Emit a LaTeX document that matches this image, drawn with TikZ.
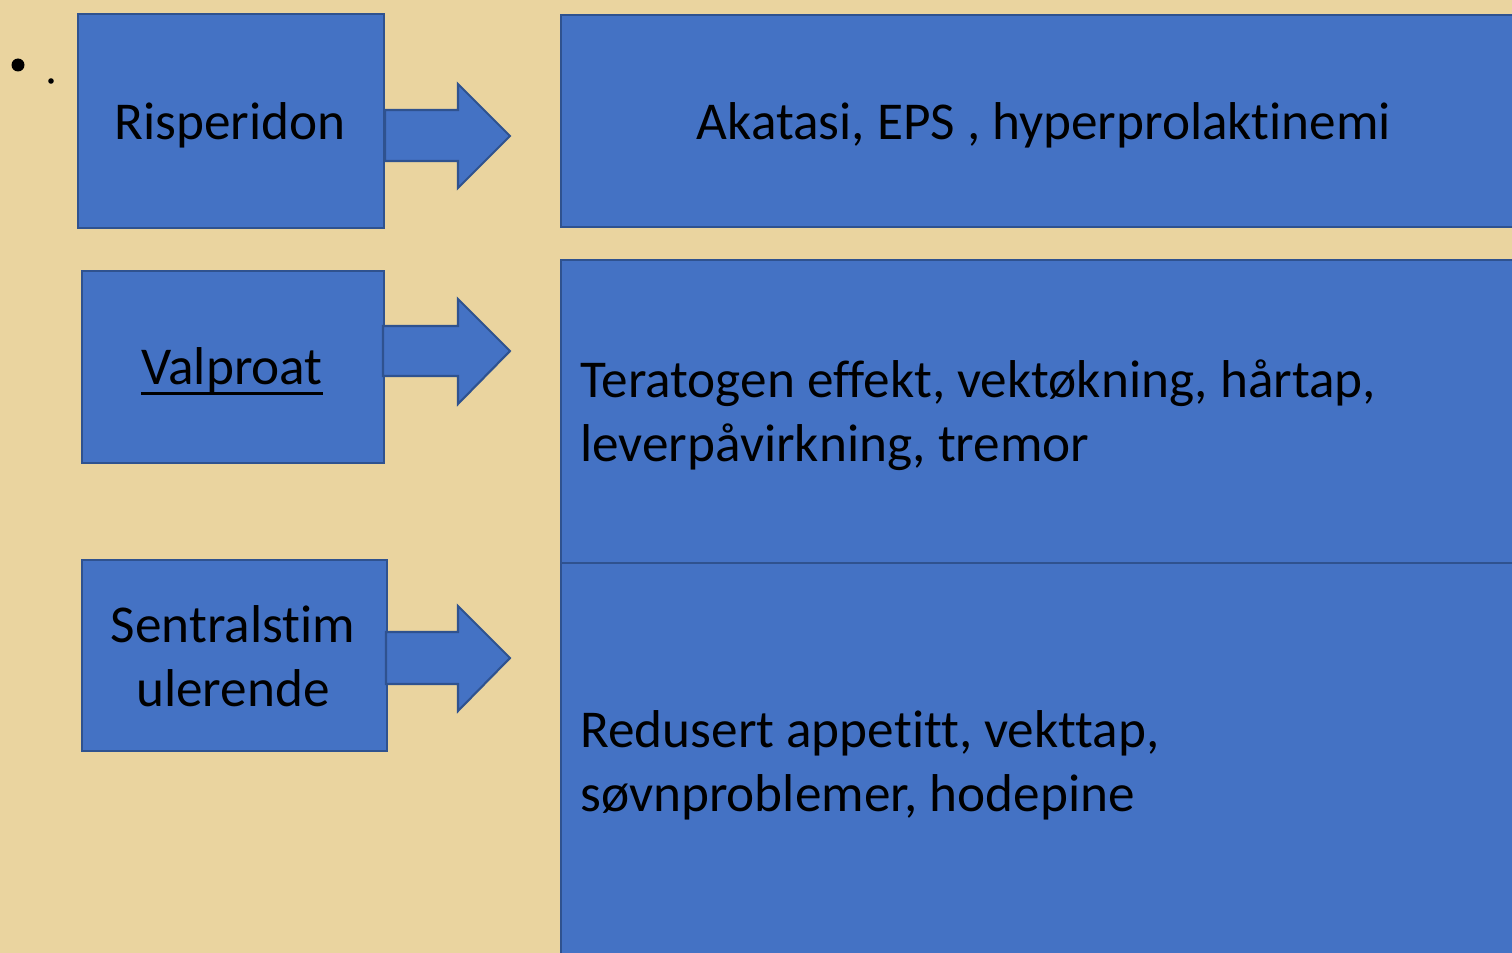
\documentclass[tikz,border=0pt]{standalone}
\usepackage{fontspec}
\setmainfont{Carlito}[Ligatures=NoCommon]
\definecolor{parch}{HTML}{EAD49F}
\definecolor{boxblue}{HTML}{4472C4}
\definecolor{boxline}{HTML}{2F528F}
\begin{document}
\begin{tikzpicture}[x=0.02cm,y=-0.02cm,
  bluebox/.style={fill=boxblue,draw=boxline,line width=1.2pt},
  bigtext/.style={font=\fontsize{30.3}{36.3}\selectfont,text=black,inner sep=0pt}]
\useasboundingbox (0,0) rectangle (1512,953);
\fill[parch] (0,0) rectangle (1512,953);
\clip (0,0) rectangle (1512,953);
% left boxes
\node[bluebox,minimum width=306*0.02cm,minimum height=214*0.02cm,anchor=north west] (ris) at (77,13) {};
\node[bluebox,minimum width=302*0.02cm,minimum height=192*0.02cm,anchor=north west] (val) at (81,270) {};
\node[bluebox,minimum width=305*0.02cm,minimum height=191*0.02cm,anchor=north west] (sen) at (81,559) {};
% right boxes
\node[bluebox,minimum width=980*0.02cm,minimum height=212*0.02cm,anchor=north west] (r1) at (560,14) {};
\node[bluebox,minimum width=980*0.02cm,minimum height=303*0.02cm,anchor=north west] (r2) at (560,259) {};
\node[bluebox,minimum width=980*0.02cm,minimum height=420*0.02cm,anchor=north west] (r3) at (560,562) {};
% arrows
\draw[bluebox] (385,110) -- (458,110) -- (458,84) -- (510,136) -- (458,188) -- (458,161) -- (385,161) -- cycle;
\draw[bluebox] (383,326) -- (458,326) -- (458,299) -- (510,351) -- (458,404) -- (458,376) -- (383,376) -- cycle;
\draw[bluebox] (386,632) -- (458,632) -- (458,606) -- (510,658) -- (458,711) -- (458,684) -- (386,684) -- cycle;
% texts
\node[bigtext,anchor=base] (tris) at (230,140) {Risperidon};
\node[bigtext,anchor=base] (tval) at (232,384) {Valproat};
\draw[black,line width=1.6pt] ([yshift=-5.5pt]tval.base west) -- ([yshift=-5.5pt]tval.base east);
\node[bigtext,anchor=base,align=center] (tsen) at (233,706) {Sentralstim\\ulerende};
\node[bigtext,anchor=base] (tr1) at (1044,140) {Akatasi, EPS , hyperprolaktinemi};
\node[bigtext,anchor=base west,align=left] (tr2) at (580,461) {Teratogen effekt, vektøkning, hårtap,\\leverpåvirkning, tremor};
\node[bigtext,anchor=base west,align=left] (tr3) at (580,811) {Redusert appetitt, vekttap,\\søvnproblemer, hodepine};
% bullet
\fill[black] (18,65) circle (6.5);
\fill[black] (51,81) circle (2.8);
\end{tikzpicture}
\end{document}
